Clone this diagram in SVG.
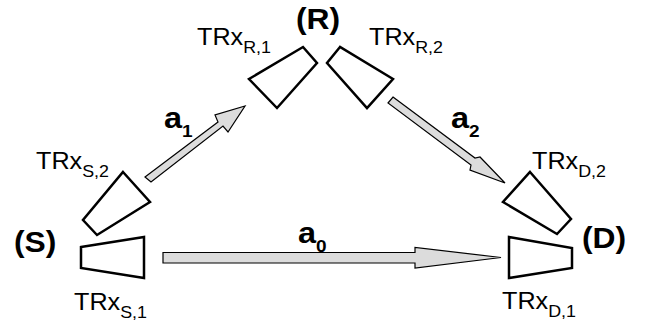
<svg xmlns="http://www.w3.org/2000/svg" width="655" height="328" viewBox="0 0 655 328">
<style>
.trx{fill:#fff;stroke:#000;stroke-width:2.5;stroke-linejoin:miter}
.arr{fill:#dcdcdc;stroke:#000;stroke-width:1.2;stroke-linejoin:miter}
.lbl{font-family:"Liberation Sans",Arial,sans-serif;font-size:24px;fill:#000}
.sub{font-size:17px}
.node{font-family:"Liberation Sans",Arial,sans-serif;font-size:30px;font-weight:bold;fill:#000}
.al{font-family:"Liberation Sans",Arial,sans-serif;font-size:29px;font-weight:bold;fill:#000}
.asub{font-size:17px}
</style>
<rect width="655" height="328" fill="#fff"/>
<g id="R">
<text class="node" transform="translate(296,29) scale(1.06,1)">(R)</text>
</g>
<g id="S">
<text class="node" transform="translate(14,252) scale(1.06,1)">(S)</text>
</g>
<g id="D">
<text class="node" transform="translate(582,248) scale(1.06,1)">(D)</text>
</g>
<g id="TRx_R1">
<polygon class="trx" points="303,47 317,63 277,108 249,79"/>
<text class="lbl" transform="translate(197,45) scale(1.05,1)">TRx<tspan class="sub" dy="8">R,1</tspan></text>
</g>
<g id="TRx_R2">
<polygon class="trx" points="340,47 327,63 367,108 393,79"/>
<text class="lbl" transform="translate(369,45) scale(1.05,1)">TRx<tspan class="sub" dy="8">R,2</tspan></text>
</g>
<g id="TRx_S2">
<polygon class="trx" points="123,172 150,202 97,235 83,220"/>
<text class="lbl" transform="translate(36,169) scale(1.05,1)">TRx<tspan class="sub" dy="8">S,2</tspan></text>
</g>
<g id="TRx_S1">
<polygon class="trx" points="81,247 144,237 144,278 81,268"/>
<text class="lbl" transform="translate(74,310) scale(1.05,1)">TRx<tspan class="sub" dy="8">S,1</tspan></text>
</g>
<g id="TRx_D2">
<polygon class="trx" points="530,172 571,219 557,234 503,202"/>
<text class="lbl" transform="translate(532,169) scale(1.05,1)">TRx<tspan class="sub" dy="8">D,2</tspan></text>
</g>
<g id="TRx_D1">
<polygon class="trx" points="509,237 572,248 572,268 509,278"/>
<text class="lbl" transform="translate(502,309) scale(1.05,1)">TRx<tspan class="sub" dy="8">D,1</tspan></text>
</g>
<g id="connectors">
<polygon class="arr" points="145,177 218,122 215,115 245,106 228,132 223,126 151,182"/>
<polygon class="arr" points="393,97 475,158 480,157 505,183 470,170 471,165 388,103"/>
<polygon class="arr" points="163,252.5 415,252.5 415,247.5 501,257.5 415,268 415,263 163,263"/>
<text class="al" transform="translate(164,128) scale(1.12,1)">a<tspan class="asub" dy="9">1</tspan></text>
<text class="al" transform="translate(451,128) scale(1.12,1)">a<tspan class="asub" dy="9">2</tspan></text>
<text class="al" transform="translate(298,243) scale(1.12,1)">a<tspan class="asub" dy="9">0</tspan></text>
</g>
</svg>
